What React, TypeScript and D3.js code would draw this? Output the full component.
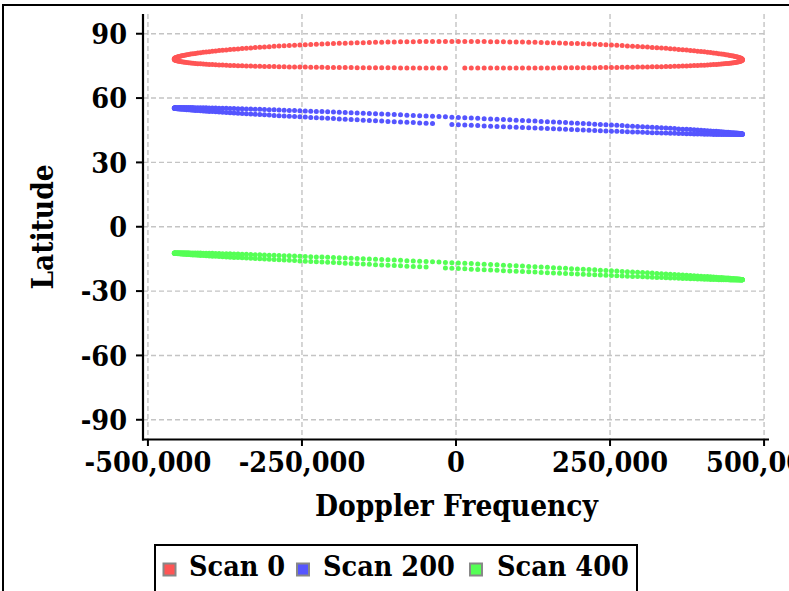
import React from "react";
import * as d3 from "d3";

// ---- data ----
const scanNames = ["Scan 0", "Scan 200", "Scan 400"];
const scanColors = ["#ff5555", "#5555ff", "#55ff55"];
// latitude of the loop ends (left = lowest Doppler, right = highest Doppler)
const tipLeftLat = [78.2, 55.35, -12.3];
const tipRightLat = [77.9, 43.2, -24.7];
// half-thickness of each loop and its mid bulge (degrees latitude)
const halfWidthLat = [6.2, 1.7, 1.3];
const bulgeLat = [2.15, 0, 0.3];
// Doppler centre / half span of each scan and the missing samples
const dopplerCenter = [3800, 3800, 3800];
const dopplerHalfSpan = [461000, 461000, 461000];
const samplesPerScan = [276, 276, 276];
const gapDoppler = [-3000, -20000, -28000];

const xTicks = [-500000, -250000, 0, 250000, 500000];
const yTicks = [90, 60, 30, 0, -30, -60, -90];
const xDomain = [-508000, 508000];
const yDomain = [-99.2, 99.2];

type Pt = { x: number; y: number };

function buildScan(k: number): Pt[] {
  const n = samplesPerScan[k];
  const pts: (Pt & { lower: boolean })[] = [];
  for (let i = 0; i < n; i++) {
    const t = (2 * Math.PI * i) / n;
    const c = Math.cos(t);
    const s = Math.sin(t);
    const x = dopplerCenter[k] + dopplerHalfSpan[k] * c;
    const base = tipLeftLat[k] + (tipRightLat[k] - tipLeftLat[k]) * (1 + c) / 2;
    const y = base + bulgeLat[k] * s * s + halfWidthLat[k] * s;
    pts.push({ x, y, lower: s < 0 });
  }
  // drop the two lower-branch samples closest to the gap
  const lowers = pts
    .map((p, i) => ({ i, d: p.lower ? Math.abs(p.x - gapDoppler[k]) : Infinity }))
    .sort((a, b) => a.d - b.d)
    .slice(0, 2)
    .map((o) => o.i);
  return pts.filter((_, i) => !lowers.includes(i));
}

const FONT = "'DejaVu Serif Condensed', 'DejaVu Serif', serif";

export default function App() {
  const x = d3.scaleLinear().domain(xDomain).range([143, 769]);
  const y = d3.scaleLinear().domain(yDomain).range([439.5, 14]);
  const fmt = (v: number) => d3.format(",")(v).replace("\u2212", "-");
  const scans = scanNames.map((_, k) => buildScan(k));
  const legendX = [163.5, 297, 470];
  const legendTextX = [189, 323, 497];

  return (
    <svg
      width={789}
      height={591}
      style={{ position: "absolute", left: 0, top: 0, background: "#fff" }}
      fontFamily={FONT}
      fontWeight="bold"
    >
      <rect x={3} y={5} width={1000} height={1000} fill="#fff" stroke="#000" strokeWidth={2} />
      {/* grid */}
      {yTicks.map((t) => (
        <line key={"gy" + t} x1={143} x2={767} y1={y(t)} y2={y(t)} stroke="#c4c4c4" strokeWidth={1.4} strokeDasharray="5,3" />
      ))}
      {xTicks.map((t) => (
        <line key={"gx" + t} x1={x(t)} x2={x(t)} y1={14} y2={439.5} stroke="#c4c4c4" strokeWidth={1.4} strokeDasharray="5,3" />
      ))}
      {/* points */}
      {scans.map((pts, k) => (
        <g key={"s" + k} fill={scanColors[k]}>
          {pts.map((p, i) => (
            <circle key={i} cx={x(p.x)} cy={y(p.y)} r={2.5} />
          ))}
        </g>
      ))}
      {/* axes */}
      <line x1={143} x2={143} y1={14} y2={440.5} stroke="#000" strokeWidth={2.2} />
      <line x1={142} x2={769} y1={439.5} y2={439.5} stroke="#000" strokeWidth={2.2} />
      {yTicks.map((t) => (
        <g key={"yt" + t}>
          <line x1={136} x2={143} y1={y(t)} y2={y(t)} stroke="#000" strokeWidth={2} />
          <text x={127} y={y(t)} dy="0.36em" textAnchor="end" fontSize={28.5}>
            {t}
          </text>
        </g>
      ))}
      {xTicks.map((t) => (
        <g key={"xt" + t}>
          <line x1={x(t)} x2={x(t)} y1={439.5} y2={446} stroke="#000" strokeWidth={2} />
          <text x={x(t)} y={472} textAnchor="middle" fontSize={28.5}>
            {fmt(t)}
          </text>
        </g>
      ))}
      <text x={456.5} y={516} textAnchor="middle" fontSize={29.5}>
        Doppler Frequency
      </text>
      <text transform="translate(53,227) rotate(-90)" textAnchor="middle" fontSize={29.5}>
        Latitude
      </text>
      {/* legend */}
      <rect x={155} y={545} width={482} height={80} fill="#fff" stroke="#000" strokeWidth={2} />
      {scanNames.map((name, k) => (
        <g key={"lg" + k}>
          <rect x={legendX[k]} y={563.5} width={12} height={12} fill={scanColors[k]} stroke="#888" strokeWidth={2} />
          <text x={legendTextX[k]} y={576} fontSize={28.5}>
            {name}
          </text>
        </g>
      ))}
    </svg>
  );
}
